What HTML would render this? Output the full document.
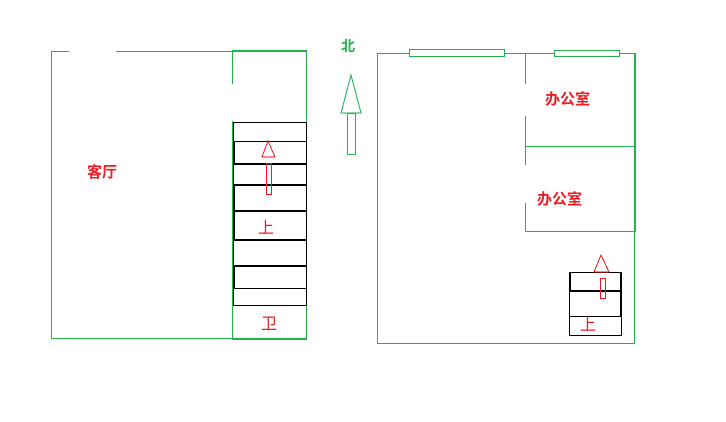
<!DOCTYPE html>
<html><head><meta charset="utf-8"><style>
html,body{margin:0;padding:0;background:#fff;}
svg{display:block;}
text{font-family:"Liberation Sans","Noto Sans CJK SC",sans-serif;font-weight:bold;}
</style></head><body>
<svg width="726" height="422" viewBox="0 0 726 422" xmlns="http://www.w3.org/2000/svg" shape-rendering="crispEdges">
<g stroke="#22b14c" fill="none" stroke-width="1">
<!-- left building -->
<line x1="51.5" y1="51.5" x2="69" y2="51.5"/>
<line x1="116" y1="51.5" x2="307" y2="51.5"/>
<line x1="232" y1="51" x2="307" y2="51" stroke-width="2"/>
<line x1="51.5" y1="51" x2="51.5" y2="339"/>
<line x1="51" y1="338.5" x2="232" y2="338.5"/>
<line x1="232" y1="339" x2="307" y2="339" stroke-width="2"/>
<line x1="306.5" y1="51" x2="306.5" y2="340"/>
<line x1="232.5" y1="51" x2="232.5" y2="84"/>
<line x1="232.5" y1="121" x2="232.5" y2="340"/>
<!-- north arrow -->
<polygon points="351,75 341,113 361,113"/>
<rect x="347.5" y="113.5" width="8" height="41"/>
<!-- right building -->
<rect x="377.5" y="53.5" width="257" height="290"/>
<line x1="635" y1="53" x2="635" y2="232" stroke-width="2"/>
<rect x="409.5" y="49.5" width="95" height="7" fill="#fff"/>
<rect x="554.5" y="50.5" width="65" height="6" fill="#fff"/>
<line x1="525.5" y1="53" x2="525.5" y2="84"/>
<line x1="525.5" y1="116" x2="525.5" y2="165"/>
<line x1="525.5" y1="203" x2="525.5" y2="232"/>
<line x1="525" y1="146.5" x2="635" y2="146.5"/>
<line x1="525" y1="231.5" x2="636" y2="231.5"/>
</g>
<!-- left stairs -->
<g stroke="#000" fill="none">
<rect x="233.5" y="122.5" width="73" height="183"/>
<line x1="233" y1="141.5" x2="306" y2="141.5"/>
<line x1="233" y1="164" x2="306" y2="164" stroke-width="2"/>
<line x1="233" y1="185" x2="306" y2="185" stroke-width="2"/>
<line x1="233" y1="211" x2="306" y2="211" stroke-width="2"/>
<line x1="233" y1="240" x2="306" y2="240" stroke-width="2"/>
<line x1="233" y1="266" x2="306" y2="266" stroke-width="2"/>
<line x1="233" y1="288.5" x2="306" y2="288.5"/>
<line x1="234" y1="141" x2="234" y2="164" stroke-width="2"/>
<line x1="234" y1="185" x2="234" y2="240" stroke-width="2"/>
<line x1="234" y1="266" x2="234" y2="288" stroke-width="2"/>
<!-- right small stairs -->
<rect x="569.5" y="272.5" width="52" height="63"/>
<line x1="569" y1="291" x2="622" y2="291" stroke-width="2"/>
<line x1="569" y1="316.5" x2="622" y2="316.5"/>
<line x1="570" y1="272" x2="570" y2="291" stroke-width="2"/>
<line x1="621" y1="272" x2="621" y2="316" stroke-width="2"/>
</g>
<g stroke="#ed1c24" fill="none">
<polygon points="268,141 262,157 275,157"/>
<rect x="266.5" y="163.5" width="5" height="31"/>
<polygon points="601,255 594,272 609,272"/>
<rect x="600.5" y="278.5" width="5" height="20"/>
</g>
<g fill="#ed1c24" font-size="15">
<text x="87" y="177">客厅</text>
<text x="545" y="104">办公室</text>
<text x="537" y="204">办公室</text>
</g>
<g fill="#ed1c24" font-size="16" font-weight="normal">
<text x="258" y="233" style="font-weight:normal">上</text>
<text x="261" y="329" style="font-weight:normal">卫</text>
<text x="580" y="330" style="font-weight:normal">上</text>
</g>
<text x="341" y="51" fill="#22b14c" font-size="14">北</text>
</svg>
</body></html>
